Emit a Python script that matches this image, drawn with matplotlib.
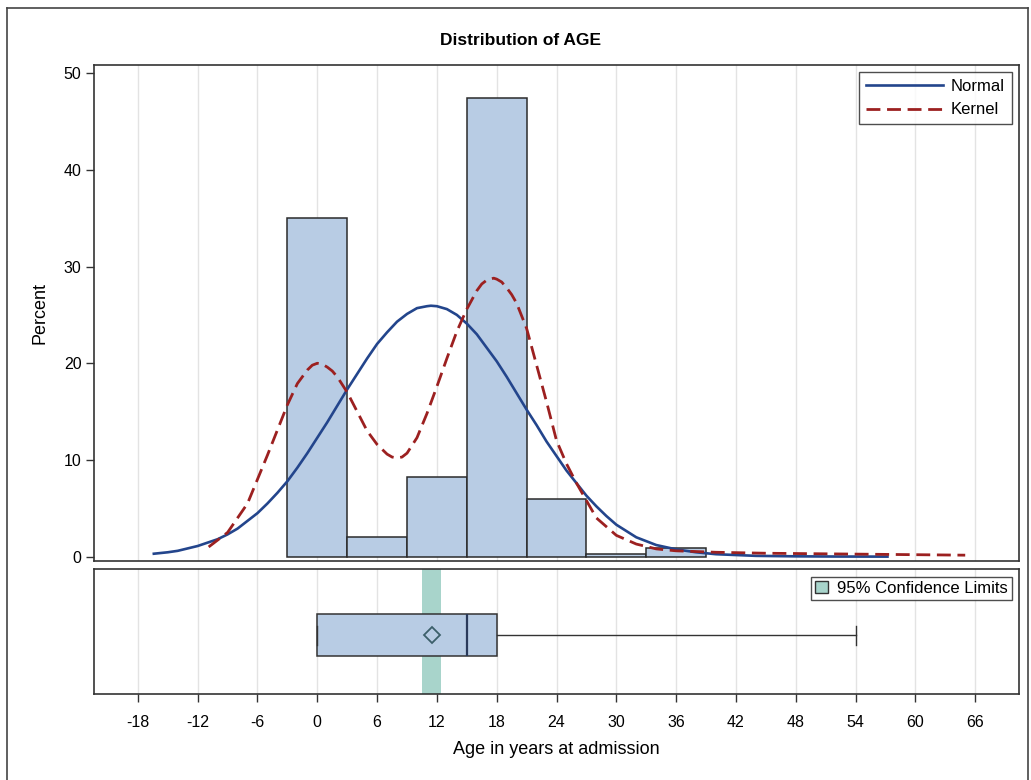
import matplotlib
matplotlib.use('Agg')
import matplotlib.pyplot as plt
from matplotlib import font_manager
from matplotlib.lines import Line2D
from matplotlib.patches import Patch

plt.rcParams['font.family'] = ['Liberation Sans', 'DejaVu Sans']
available = {f.name for f in font_manager.fontManager.ttflist}
if 'Liberation Sans Narrow' in available:
    title_font, title_size = 'Liberation Sans Narrow', 14
else:
    title_font, title_size = 'Liberation Sans', 12.5

# histogram (percent per 6-year bin)
bin_centers = [0, 6, 12, 18, 24, 30, 36]
bin_pct = [35.0, 2.0, 8.2, 47.4, 6.0, 0.3, 0.9]
bin_width = 6

# normal fit curve
normal_x = [-16.4, -15, -14, -13, -12, -11, -10, -9, -8, -7, -6, -5, -4, -3, -2, -1,
            0, 1, 2, 3, 4, 5, 6, 7, 8, 9, 10, 11, 11.4, 12, 13, 14, 15, 16, 17, 18,
            19, 20, 21, 22, 23, 24, 25, 26, 27, 28, 29, 30, 32, 34, 36, 38, 40, 44,
            48, 52, 57.2]
normal_y = [0.3, 0.45, 0.6, 0.85, 1.1, 1.45, 1.8, 2.3, 2.9, 3.7, 4.5, 5.5, 6.6, 7.8,
            9.2, 10.7, 12.3, 13.9, 15.6, 17.3, 18.9, 20.5, 22.0, 23.2, 24.3, 25.1,
            25.7, 25.9, 25.95, 25.9, 25.6, 25.0, 24.1, 23.0, 21.6, 20.2, 18.6, 16.9,
            15.2, 13.6, 11.9, 10.4, 8.9, 7.6, 6.3, 5.2, 4.2, 3.3, 2.0, 1.2, 0.75,
            0.45, 0.25, 0.08, 0.03, 0.01, 0.0]

# kernel density curve
kernel_x = [-10.9, -9, -7, -5, -3, -2, -1, -0.5, 0, 0.5, 1, 1.5, 2, 3, 4, 5, 6, 7,
            7.5, 8, 8.5, 9, 10, 11, 12, 13, 14, 15, 16, 16.5, 17, 17.7, 18, 18.5,
            19, 19.5, 20, 21, 22, 23, 24, 25, 26, 27, 28, 30, 32, 34, 36, 40, 45,
            50, 55, 60, 65]
kernel_y = [1.0, 2.5, 5.5, 10.5, 15.7, 17.9, 19.3, 19.8, 20.0, 19.9, 19.6, 19.2,
            18.6, 17.0, 15.0, 13.0, 11.6, 10.6, 10.3, 10.2, 10.3, 10.7, 12.3, 14.8,
            17.6, 20.5, 23.3, 25.6, 27.5, 28.2, 28.6, 28.8, 28.7, 28.4, 27.8, 27.1,
            26.2, 23.6, 19.8, 16.0, 12.0, 9.6, 7.6, 5.8, 4.0, 2.2, 1.3, 0.8, 0.6,
            0.45, 0.35, 0.3, 0.25, 0.2, 0.15]

# box plot summary
q1, median, q3 = 0, 15, 18
whisker_lo, whisker_hi = 0, 54
mean_age = 11.5
ci_lo, ci_hi = 10.5, 12.4

x_ticks = list(range(-18, 67, 6))
y_ticks = [0, 10, 20, 30, 40, 50]

bar_color = '#b8cce4'
edge_color = '#2b2b2b'
normal_color = '#23458c'
kernel_color = '#9c2020'
ci_color = '#a8d4cb'
grid_color = '#e3e3e3'

fig = plt.figure(figsize=(10.31, 7.8), dpi=100)
ax = fig.add_axes([0.0912, 0.2808, 0.8972, 0.6359])
axb = fig.add_axes([0.0912, 0.1103, 0.8972, 0.1602])

# outer frame
for xs, ys in [((0.007, 0.007), (0.0, 0.99)), ((0.007, 0.997), (0.99, 0.99)),
               ((0.997, 0.997), (0.0, 0.99))]:
    fig.add_artist(Line2D(xs, ys, color='#444444', lw=1.2, transform=fig.transFigure))

ax.bar(bin_centers, bin_pct, width=bin_width, color=bar_color, edgecolor=edge_color,
       linewidth=1.1, zorder=2)
ax.plot(normal_x, normal_y, color=normal_color, lw=1.9, zorder=3, label='Normal')
ax.plot(kernel_x, kernel_y, color=kernel_color, lw=2.0, dashes=(5, 2.4), zorder=3,
        label='Kernel')

ax.set_xlim(-22.4, 70.4)
ax.set_ylim(-0.45, 50.85)
ax.set_xticks(x_ticks)
ax.set_yticks(y_ticks)
ax.tick_params(axis='x', length=0, labelbottom=False)
ax.tick_params(axis='y', length=6, width=1, labelsize=11.5, color='#333333', pad=3)
ax.grid(axis='x', color=grid_color, lw=1, zorder=0)
ax.set_axisbelow(True)
ax.set_ylabel('Percent', fontsize=13, labelpad=11)
fig.text(0.505, 0.948, 'Distribution of AGE', ha='center', va='center',
         fontsize=title_size, fontweight='bold', family=title_font)
for s in ax.spines.values():
    s.set_color('#333333')
    s.set_linewidth(1.2)
leg = ax.legend(loc='upper right', fontsize=12, handlelength=4.6, frameon=True,
                fancybox=False, edgecolor='#222222', borderaxespad=0.45,
                handletextpad=0.5, labelspacing=0.5, borderpad=0.4)
leg.get_frame().set_linewidth(1.0)

# box plot panel
axb.axvspan(ci_lo, ci_hi, color=ci_color, lw=0, zorder=1)
stats = [dict(med=median, q1=q1, q3=q3, whislo=whisker_lo, whishi=whisker_hi,
              mean=mean_age, fliers=[])]
axb.bxp(stats, positions=[0.47], widths=0.34, vert=False, showmeans=True,
        showfliers=False, patch_artist=True, capwidths=0.15,
        boxprops=dict(facecolor=bar_color, edgecolor='#333333', lw=1.1),
        medianprops=dict(color='#2a3a5a', lw=1.6),
        whiskerprops=dict(color='#333333', lw=1.0),
        capprops=dict(color='#333333', lw=1.0),
        meanprops=dict(marker='D', markersize=8, markerfacecolor='none',
                       markeredgecolor='#3c5f6a', markeredgewidth=1.3),
        zorder=3)
axb.set_ylim(0, 1)
axb.set_xlim(-22.4, 70.4)
axb.set_yticks([])
axb.set_xticks(x_ticks)
axb.set_xticklabels([str(t) for t in x_ticks])
axb.tick_params(axis='x', length=6, width=1, labelsize=11.5, color='#333333', pad=9)
axb.grid(axis='x', color=grid_color, lw=1, zorder=0)
axb.set_axisbelow(True)
axb.set_xlabel('Age in years at admission', fontsize=13, labelpad=8)
for s in axb.spines.values():
    s.set_color('#333333')
    s.set_linewidth(1.2)
ci_handle = Patch(facecolor=ci_color, edgecolor='#333333', lw=1.0,
                  label='95% Confidence Limits')
leg2 = axb.legend(handles=[ci_handle], loc='upper right', fontsize=12,
                  handlelength=0.8, handleheight=0.8, frameon=True, fancybox=False,
                  edgecolor='#222222', borderaxespad=0.45, handletextpad=0.5,
                  borderpad=0.25)
leg2.get_frame().set_linewidth(1.0)

fig.savefig('out.png', dpi=100)
